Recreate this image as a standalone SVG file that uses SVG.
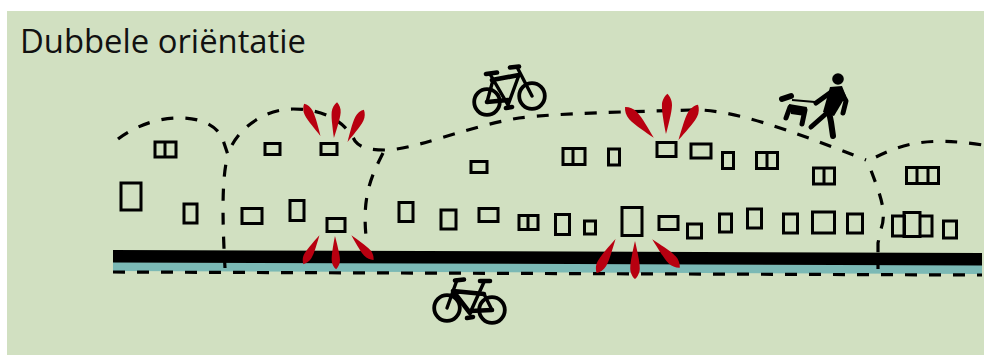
<svg xmlns="http://www.w3.org/2000/svg" width="984" height="355" viewBox="0 0 984 355">
<style>
.w{fill:none;stroke:#000;stroke-width:3}
.d{fill:none;stroke:#000;stroke-width:3.200;stroke-dasharray:12 12}
.p{fill:#b80010}
.b{fill:none;stroke:#000;stroke-width:3.800;stroke-linecap:round}
.f{fill:none;stroke:#000;stroke-width:3.400;stroke-linecap:round}
.g{fill:none;stroke:#000;stroke-width:4.600;stroke-linecap:round}
.t{fill:none;stroke:#000;stroke-width:5;stroke-linecap:round;stroke-linejoin:round}
text{font-family:"Open Sans","Noto Sans",sans-serif;font-size:33.500px;fill:#111}
</style>
<defs>
<path id="petal" d="M0,1C-1.200,-4 -2,-8 -2.800,-12C-3.800,-17 -4.500,-21 -4.500,-25C-4.500,-29 -2.400,-33 0,-35C2.400,-33 4.500,-29 4.500,-25C4.500,-21 3.800,-17 2.800,-12C2,-8 1.200,-4 0,1Z"/>
</defs>
<rect id="background" x="7" y="11" width="977" height="344" fill="#d1e0c1"/>
<text id="title" x="20" y="52.500" textLength="286" lengthAdjust="spacingAndGlyphs">Dubbele oriëntatie</text>
<g id="road">
<path d="M113,262L982,265V274L113,271Z" fill="#7bb9b5"/>
<path d="M113,250L982,253V265.500L113,262.500Z" fill="#000"/>
</g>
<g id="connectors">
<path class="d" d="M113,272L982,275"/>
<path class="d" d="M118,139C128,131 150,119 175,118C198,117 219,124 224,143L228,155C222,175 222,215 225,268"/>
<path class="d" d="M232,145C245,122 270,109 293,109C325,109 345,122 355,141C362,150 375,150 390,150C425,146 470,126 519,118C560,113 625,112 690,110C730,108 790,130 866,160"/>
<path class="d" d="M876,157C900,145 925,136 983,145"/>
<path class="d" d="M383,153C372,175 362,195 366,236"/>
<path class="d" style="stroke-dashoffset:-6" d="M869,165C878,190 888,210 881,229L878,243L878,269"/>
</g>
<g id="buildings">
<path class="w" d="M155,142h21v15h-21zM165,142v15M121,183h20v27h-20zM184,204h13v19h-13zM265,143.500h15v11h-15zM321,143.500h16v11h-16zM242,208.500h20v15h-20zM290,200.500h14v20h-14zM327,218.500h18v13h-18z"/>
<path class="w" d="M471,161.500h16v11h-16zM399,202.500h14v19h-14zM441,210h15v19h-15zM479,208.500h19v13h-19zM519,215.500h19v14h-19zM528,215.500v14M555.500,214.500h14v20h-14zM584.500,221h11v13h-11zM622,207.500h20v28h-20zM659,216.500h19v13h-19z"/>
<path class="w" d="M563,148.500h22v16h-22zM573,148.500v16M608.500,149h11v16h-11zM657,142.500h19v14h-19zM691,144h20v14h-20zM722.500,152.500h11v16h-11zM756.500,152.500h21v16h-21zM767,152.500v16M813.500,168h21v16h-21zM824,168v16"/>
<path class="w" d="M906.500,167.500h32v16h-32zM917,167.500v16M928,167.500v16M687.500,224h14v14h-14zM719.500,214h12v18h-12zM747.500,209h14v19h-14zM783.500,214h14v19h-14zM812.500,212h22v21h-22zM847.500,214h15v19h-15zM892.500,216h12v20h-12zM904,212.500h16v24h-16zM920,216h12v20h-12zM943.500,221h13v17h-13z"/>
</g>
<g id="conflicts" class="p">
<use href="#petal" transform="translate(320,135) rotate(-27)"/>
<use href="#petal" transform="translate(334,137) rotate(5)"/>
<use href="#petal" transform="translate(348,141) rotate(27)"/>
<use href="#petal" transform="translate(319,236) rotate(-151) scale(.92)"/>
<use href="#petal" transform="translate(335,237) rotate(178) scale(.92)"/>
<use href="#petal" transform="translate(352,236) rotate(138) scale(.92)"/>
<use href="#petal" transform="translate(653,137) rotate(-43) scale(1.17)"/>
<use href="#petal" transform="translate(666,133) rotate(2) scale(1.12)"/>
<use href="#petal" transform="translate(679,139) rotate(29) scale(1.12)"/>
<use href="#petal" transform="translate(615,240) rotate(-151) scale(1.08)"/>
<use href="#petal" transform="translate(635,242) rotate(180) scale(1.06)"/>
<use href="#petal" transform="translate(653,240) rotate(136) scale(1.1)"/>
</g>
<g id="bike-top">
<circle class="b" cx="487" cy="102" r="12.800"/>
<circle class="b" cx="532" cy="96" r="12.800"/>
<path class="f" d="M487,102L493,80M490,74L508,105L519,75M517,67L532,96"/>
<path class="g" d="M486,74L497,72.500M510,67.500L519,66.500M492,80L519,75M487,102L508,100M506,108L512,107"/>
</g>
<g id="bike-bottom">
<circle class="b" cx="447" cy="308" r="12.800"/>
<circle class="b" cx="492" cy="310" r="12.800"/>
<path class="f" d="M457,280L447,308M484,282L470,313M484,294L492,310"/>
<path class="g" d="M455,280.500L464,279.500M480,281L490,281M453,291L484,294M453,291L470,313M470,311L492,310M467,318L473,317"/>
</g>
<g id="walker">
<circle cx="838" cy="79" r="5.800"/>
<path d="M830,87L842,86L846,96L834,116L823,112Z"/>
<path class="t" d="M834,90L816,103M840,90L846,101L843,113M828,112L811,127"/>
<path class="t" style="stroke-width:6" d="M829,112L831,122L833,136"/>
<path d="M792,100L815,102" stroke="#000" stroke-width="2"/>
<path class="t" style="stroke-width:6" d="M782,99L791,96"/>
<path d="M789,104L807,107L805,116L791,114Z"/>
<path class="t" d="M790,107L786,118M805,110L802,124"/>
</g>
</svg>
